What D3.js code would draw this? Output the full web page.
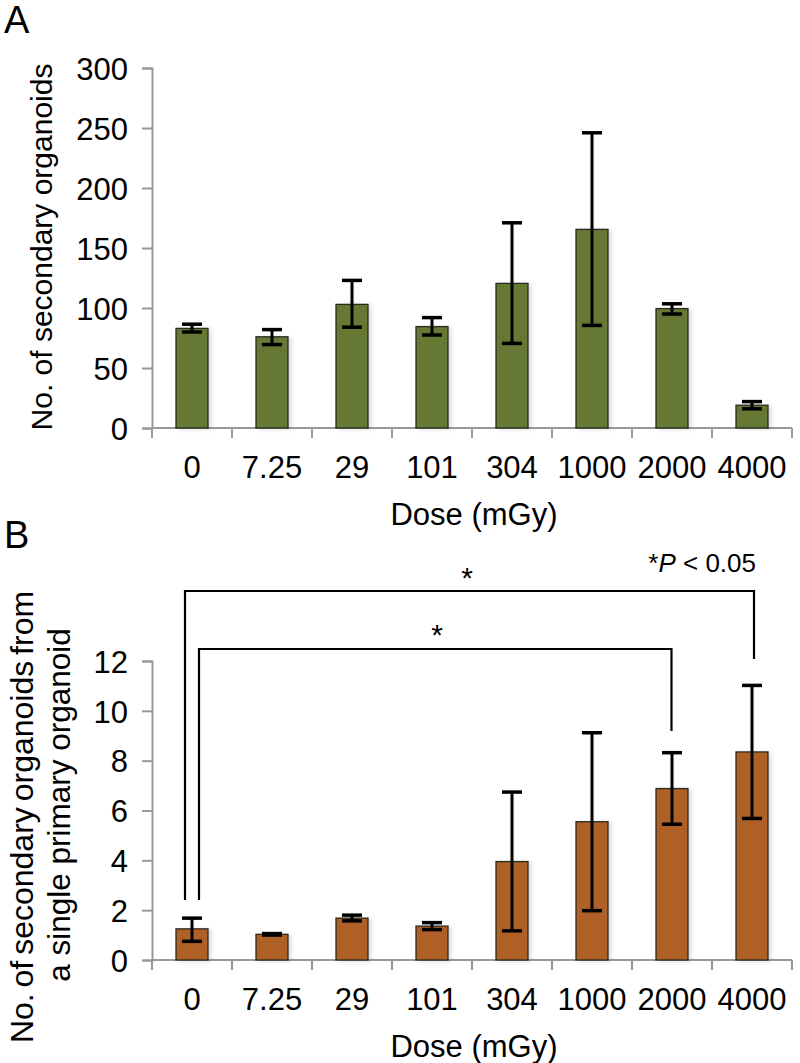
<!DOCTYPE html>
<html><head><meta charset="utf-8">
<script src="https://cdn.jsdelivr.net/npm/d3@7"></script>
<style>body{margin:0;background:#fff}svg text{font-family:"Liberation Sans",Arial,sans-serif;fill:#000}</style>
</head><body><svg id="c" width="800" height="1063"></svg>
<script>
const doses = ["0","7.25","29","101","304","1000","2000","4000"];
const meanA = [83, 76, 103, 84.5, 120.5, 165.5, 99.5, 19];
const lowA  = [80, 69.5, 84, 77.5, 70.5, 85.5, 95, 16];
const highA = [86.5, 82, 123, 92, 171, 246, 103.5, 22];
const ticksA = [0, 50, 100, 150, 200, 250, 300];
const meanB = [1.25, 1.03, 1.68, 1.36, 3.95, 5.55, 6.88, 8.35];
const lowB  = [0.75, 1.0, 1.57, 1.22, 1.17, 1.98, 5.45, 5.68];
const highB = [1.68, 1.06, 1.8, 1.5, 6.74, 9.12, 8.32, 11.02];
const ticksB = [0, 2, 4, 6, 8, 10, 12];
const brackets = [{from:"0", to:"4000", label:"*"}, {from:"0", to:"2000", label:"*"}];

const svg = d3.select("#c");
const defs = svg.append("defs");
defs.append("filter").attr("id","sh").attr("x","-20%").attr("y","-5%").attr("width","150%").attr("height","115%")
  .append("feDropShadow").attr("dx",3).attr("dy",1).attr("stdDeviation",2).attr("flood-color","#000").attr("flood-opacity",0.12);

const x = d3.scaleBand().domain(doses).range([152, 792]).padding(0);
const barW = x.bandwidth()*0.4;

function panel(opt){
  const y = d3.scaleLinear().domain(opt.domain).range(opt.range);
  const g = svg.append("g");
  const ya = g.append("g").attr("transform","translate(152,0)")
    .call(d3.axisLeft(y).tickValues(opt.ticks).tickSize(10).tickPadding(14).tickFormat(d3.format("d")));
  ya.select(".domain").attr("stroke","#999").attr("stroke-width",2);
  ya.selectAll(".tick line").attr("stroke","#999").attr("stroke-width",2);
  ya.selectAll(".tick text").attr("font-size",31).attr("font-family","Liberation Sans, Arial, sans-serif").attr("dy","0.36em");
  const y0 = y(0);
  g.append("line").attr("x1",152).attr("x2",792).attr("y1",y0).attr("y2",y0).attr("stroke","#999").attr("stroke-width",2);
  const bounds = doses.map(d=>x(d)).concat([792]);
  g.selectAll(".xt").data(bounds).join("line").attr("x1",d=>d).attr("x2",d=>d)
    .attr("y1",y0).attr("y2",y0+10).attr("stroke","#999").attr("stroke-width",2);
  g.selectAll(".xl").data(doses).join("text").attr("x",d=>x(d)+x.bandwidth()/2).attr("y",y0+50)
    .attr("text-anchor","middle").attr("font-size",31).text(d=>d);
  g.append("text").attr("x",474).attr("y",y0+97).attr("text-anchor","middle").attr("font-size",31).text("Dose (mGy)");
  g.selectAll(".bar").data(doses).join("rect")
    .attr("x",d=>x(d)+x.bandwidth()/2-barW/2).attr("width",barW)
    .attr("y",(d,i)=>y(opt.mean[i])).attr("height",(d,i)=>y0-y(opt.mean[i]))
    .attr("fill",opt.color).attr("stroke","#2a2a1e").attr("stroke-width",1.3).attr("filter","url(#sh)");
  const eb = g.selectAll(".eb").data(doses).join("g");
  eb.append("line").attr("x1",d=>x(d)+x.bandwidth()/2).attr("x2",d=>x(d)+x.bandwidth()/2)
    .attr("y1",(d,i)=>y(opt.low[i])).attr("y2",(d,i)=>y(opt.high[i])).attr("stroke","#000").attr("stroke-width",3);
  [opt.low, opt.high].forEach(arr=>{
    eb.append("line").attr("x1",d=>x(d)+x.bandwidth()/2-10).attr("x2",d=>x(d)+x.bandwidth()/2+10)
      .attr("y1",(d,i)=>y(arr[i])).attr("y2",(d,i)=>y(arr[i])).attr("stroke","#000").attr("stroke-width",3.5);
  });
  return y;
}

svg.append("text").attr("x",4).attr("y",33).attr("font-size",38).text("A");
panel({domain:[0,300], range:[428,68], ticks:ticksA, mean:meanA, low:lowA, high:highA, color:"#657935"});
svg.append("text").attr("transform","translate(52,247) rotate(-90)").attr("text-anchor","middle").attr("font-size",30).text("No. of secondary organoids");

svg.append("text").attr("x",4).attr("y",548).attr("font-size",38).text("B");
panel({domain:[0,12], range:[960,661], ticks:ticksB, mean:meanB, low:lowB, high:highB, color:"#af6028"});
svg.append("text").attr("transform","translate(33,817) rotate(-90)").attr("text-anchor","middle").attr("font-size",32).attr("word-spacing","-3").text("No. of secondary organoids from");
svg.append("text").attr("transform","translate(70,805) rotate(-90)").attr("text-anchor","middle").attr("font-size",31.5).text("a single primary organoid");

const bCfg = [{xl:185, yTop:591, yEndR:659, sx:467, sy:588},{xl:199, yTop:649, yEndR:731, sx:437, sy:645}];
brackets.forEach((b,i)=>{
  const c = bCfg[i];
  const xr = x(b.to)+x.bandwidth()/2 + (i===0?2:-0.5);
  svg.append("path").attr("d",`M${c.xl},900 V${c.yTop} H${xr} V${c.yEndR}`)
    .attr("fill","none").attr("stroke","#000").attr("stroke-width",2.2);
  svg.append("text").attr("x",c.sx).attr("y",c.sy).attr("text-anchor","middle").attr("font-size",30).text(b.label);
});
const pt = svg.append("text").attr("x",756).attr("y",572).attr("text-anchor","end").attr("font-size",26);
pt.append("tspan").text("*");
pt.append("tspan").attr("font-style","italic").text("P");
pt.append("tspan").text(" < 0.05");
</script></body></html>
